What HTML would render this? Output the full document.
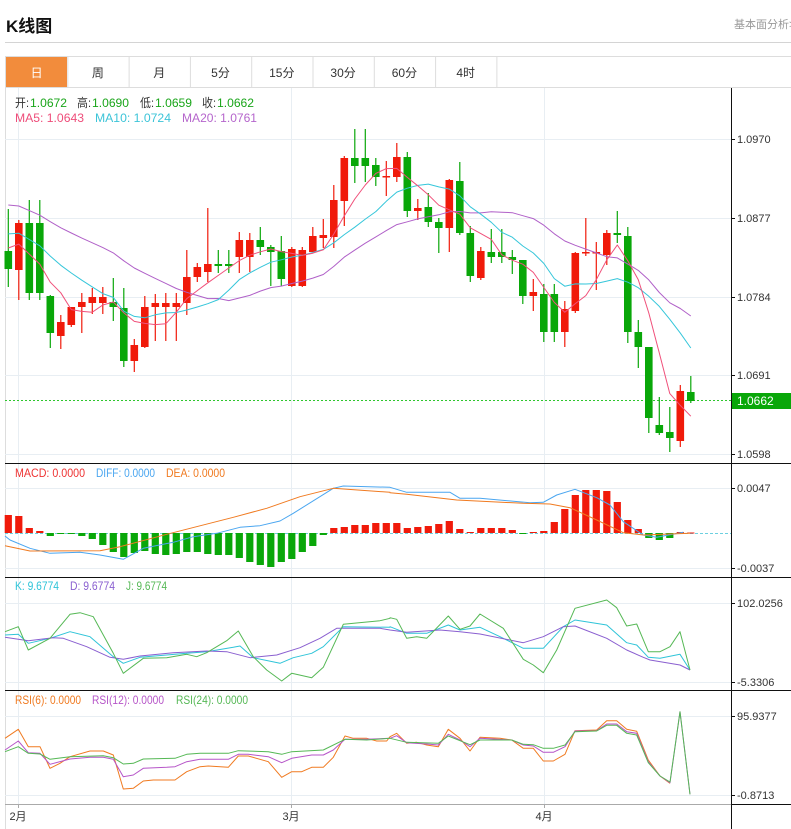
<!DOCTYPE html>
<html><head><meta charset="utf-8">
<style>
html,body{margin:0;padding:0;background:#fff;width:791px;height:829px;overflow:hidden;font-family:"Liberation Sans","Noto Sans CJK SC",sans-serif;}
#wrap{position:relative;width:791px;height:829px;}
.t{position:absolute;white-space:nowrap;}
</style></head><body><div id="wrap">
<div class="t" style="left:6px;top:12px;font-size:17px;font-weight:bold;color:#111;">K线图</div>
<div class="t" style="left:734px;top:16px;font-size:11px;color:#999;">基本面分析&gt;</div>
<div style="position:absolute;left:5px;top:42px;width:786px;height:1px;background:#d4d4d4"></div>
<svg id="s" width="791" height="829" style="position:absolute;left:0;top:0" xmlns="http://www.w3.org/2000/svg"></svg>
</div>
<script>
const NS="http://www.w3.org/2000/svg",S=document.getElementById('s');
function el(t,a,txt){const e=document.createElementNS(NS,t);for(const k in a)e.setAttribute(k,a[k]);if(txt!==undefined)e.textContent=txt;S.appendChild(e);return e;}
function line(x1,y1,x2,y2,c,w,d){const a={x1,y1,x2,y2,stroke:c,'stroke-width':w||1};if(d)a['stroke-dasharray']=d;el('line',a);}
function text(x,y,s,c,sz,anchor,len){const a={x,y,fill:c,'font-size':sz||12,'font-family':'"Liberation Sans","Noto Sans CJK SC",sans-serif','text-anchor':anchor||'start'};if(len){a.textLength=len;a.lengthAdjust='spacingAndGlyphs';}el('text',a,s);}
// tabs
line(5,56.5,791,56.5,'#ddd');line(5,87.5,791,87.5,'#ddd');
el('rect',{x:6,y:57,width:61,height:30,fill:'#f28c3c'});
const tabs=['日','周','月','5分','15分','30分','60分','4时'];
for(let i=0;i<8;i++){const x0=6+i*61.3;text(x0+30.6,77,tabs[i],i==0?'#fff':'#333',12,'middle');line(x0+61.3+.5,57,x0+61.3+.5,87,'#ddd');}
line(5.5,57,5.5,829,'#ddd');
// grids
['139','218','297','375','454','488','568','603','682','716','795'].forEach(y=>line(5,+y+.5,731,+y+.5,'#e8eef3'));
[18,291,544].forEach(x=>line(x+.5,88,x+.5,804,'#e8eef3'));
[463,577,690].forEach(y=>line(5,y+.5,791,y+.5,'#111'));
line(5,804.5,731,804.5,'#aaa');line(731,804.5,791,804.5,'#111');
line(731.5,88,731.5,829,'#111');
[[139,'1.0970'],[218,'1.0877'],[297,'1.0784'],[375,'1.0691'],[454,'1.0598'],[488,'0.0047'],[568,'-0.0037'],[603,'102.0256'],[682,'-5.3306'],[716,'95.9377'],[795,'-0.8713']].forEach(a=>{line(731,a[0]+.5,735,a[0]+.5,'#111');text(737,a[0]+4,a[1],'#333',11);});
el('rect',{x:732,y:393,width:59,height:16,fill:'#09a709'});text(737,405,'1.0662','#fff',12);
line(5,400.5,731,400.5,'#2ec72e',1,'2,2');
[[18,'2月'],[291,'3月'],[544,'4月']].forEach(a=>{line(a[0]+.5,804,a[0]+.5,808,'#aaa');text(a[0],820,a[1],'#333',11,'middle');});
// legends
const G='#1aa51a',K='#333';
text(15,107,'开:',K,12,'start',14);text(30,107,'1.0672',G,12,'start',37);
text(77,107,'高:',K,12,'start',14);text(92,107,'1.0690',G,12,'start',37);
text(140,107,'低:',K,12,'start',14);text(155,107,'1.0659',G,12,'start',37);
text(202,107,'收:',K,12,'start',14);text(217,107,'1.0662',G,12,'start',37);
text(15,122,'MA5: 1.0643','#ee4d7a',12,'start',69);text(95,122,'MA10: 1.0724','#3cc4d8',12,'start',76);text(182,122,'MA20: 1.0761','#b565cc',12,'start',75);
text(15,477,'MACD: 0.0000','#ee3333',12,'start',70);text(96,477,'DIFF: 0.0000','#4aa6f0',12,'start',59);text(166,477,'DEA: 0.0000','#f07a20',12,'start',59);
text(15,590,'K: 9.6774','#2fc4d8',12,'start',44);text(70,590,'D: 9.6774','#8a5fd0',12,'start',45);text(126,590,'J: 9.6774','#55b855',12,'start',41);
text(15,704,'RSI(6): 0.0000','#f07a20',12,'start',66);text(92,704,'RSI(12): 0.0000','#b655c8',12,'start',72);text(176,704,'RSI(24): 0.0000','#55b855',12,'start',72);
const C=[[251,269,209,287,0],[223,270,220,300,1],[223,293,200,300,0],[223,293,200,300,0],[296,333,295,348,0],[322,336,315,349,1],[307,325,307,327,1],[302,307,293,333,1],[297,303,288,314,1],[297,303,287,314,1],[302,307,278,321,0],[308,361,288,367,0],[345,361,339,372,1],[307,347,296,348,1],[303,307,294,341,1],[303,307,293,341,1],[303,307,293,341,1],[277,303,250,315,1],[267,277,263,282,1],[264,272,208,282,1],[264,266,250,273,0],[264,266,250,273,0],[240,257,232,273,1],[240,257,233,272,1],[240,247,227,255,0],[247,252,245,286,0],[251,279,236,286,0],[249,286,247,287,1],[250,286,247,287,1],[236,252,227,252,1],[235,238,219,248,1],[200,237,185,248,1],[158,201,156,226,1],[158,166,129,183,0],[158,166,129,182,0],[165,177,158,186,0],[176,177,161,196,1],[157,177,143,182,1],[157,211,152,217,0],[208,211,199,220,1],[207,222,193,227,0],[222,228,218,253,0],[180,228,179,252,1],[181,233,162,235,0],[233,276,226,282,0],[251,278,247,280,1],[252,257,229,263,0],[252,257,229,263,0],[257,260,250,274,0],[260,296,260,304,0],[292,296,279,311,1],[294,332,284,342,0],[294,332,284,342,0],[309,332,301,347,1],[253,311,252,313,1],[252,253,218,256,1],[252,253,242,290,1],[233,255,230,265,1],[233,235,211,243,0],[236,332,227,343,0],[332,347,320,368,0],[347,418,347,433,0],[425,433,397,435,0],[432,438,407,452,0],[391,441,385,447,1],[392,401,376,403,0]];
const X=i=>8.3+10.5*i;
const closes=C.map(c=>c[4]?c[0]:c[1]);
function ma(n,pre){const r=[];for(let i=0;i<closes.length;i++){let s=0;for(let k=i-n+1;k<=i;k++)s+=k<0?pre:closes[k];r.push(s/n);}return r;}
const pl=(pts,c,w)=>el('polyline',{points:pts.map(p=>p[0].toFixed(1)+','+p[1].toFixed(1)).join(' '),fill:'none',stroke:c,'stroke-width':w||1,'stroke-linejoin':'round'});
C.forEach((c,i)=>{const x=X(i),col=c[4]?'#f01a0a':'#09a709';line(x,c[2],x,c[3],col,1.2);el('rect',{x:x-3.8,y:c[0],width:7.6,height:Math.max(1.5,c[1]-c[0]),fill:col});});
[[20,201.6,'#b060c8'],[10,230,'#35c6da'],[5,242.75,'#f0507a']].forEach(m=>{const v=ma(m[0],m[1]);pl(v.map((y,i)=>[X(i),y]),m[2]);});
line(5,533.5,731,533.5,'#6cd0e0',1,'3,2');
const H=[515,516,528,531,536,534,534,536,539,545,552,557,553,551,554,555,554,552,552,554,555,555,558,562,565,567,562,559,552,546,535,528,527,525,525,523,523,523,528,527,526,524,521,529,532,528,528,528,530,533,532,531,522,509,495,490,490,491,502,520,529,538,540,538,532,532.5];
H.forEach((h,i)=>{const x=X(i);const up=h<533;el('rect',{x:x-3.6,y:Math.min(h,533),width:7.2,height:Math.max(1,Math.abs(h-533)),fill:up?'#f01a0a':'#09a709'});});
const Z=(arr,ox,oy)=>arr.map(p=>[p[0]/3+ox,p[1]/3+oy]);
const clip=a=>a.map(p=>[Math.max(5,p[0]),p[1]]);
pl(clip(Z([[0,243],[30,255],[90,280],[150,295],[240,292],[300,300],[370,313],[430,280],[520,262],[580,245],[650,235],[720,217],[780,212],[840,198],[880,175],[1000,100],[1030,93],[1170,97]],0,455).concat(Z([[0,97],[50,112],[180,112],[210,130],[270,130],[420,143],[460,142],[500,120],[555,103],[620,128],[660,150],[700,200],[760,240],[800,247],[880,232]],390,455))),'#4aa6f0');
pl(clip(Z([[0,272],[90,288],[300,287],[360,275],[500,238],[700,187],[800,160],[900,125],[1000,100],[1170,112]],0,455).concat(Z([[0,113],[50,118],[200,135],[400,145],[480,147],[540,158],[620,195],[700,233],[760,240],[900,235]],390,455))),'#f07a20');
pl(clip(Z([[0,195],[55,193],[85,220],[150,205],[210,185],[270,200],[340,260],[370,280],[420,262],[500,255],[560,250],[620,245],[700,232],[720,228],[760,263],[840,280],[880,263],[935,250],[970,230],[1030,170],[1170,172]],0,570).concat(Z([[0,170],[50,190],[110,190],[175,165],[210,180],[270,172],[330,200],[400,235],[460,235],[520,170],[555,150],[650,165],[710,218],[740,225],[775,262],[810,265],[870,253],[900,300]],390,570))),'#2fc4d8');
pl(clip(Z([[0,202],[85,212],[160,203],[190,205],[260,230],[330,262],[370,268],[420,258],[520,248],[620,243],[680,245],[750,263],[830,255],[900,233],[960,205],[1010,175],[1140,175],[1170,180]],0,570).concat(Z([[0,180],[50,187],[150,180],[210,185],[270,192],[400,218],[460,200],[520,170],[555,168],[650,205],[710,240],[760,262],[780,270],[870,285],[900,300]],390,570))),'#8a5fd0');
pl(clip(Z([[0,185],[55,170],[85,240],[150,205],[210,133],[240,128],[280,140],[340,250],[370,310],[430,265],[500,263],[560,253],[590,260],[620,248],[680,212],[715,183],[760,260],[800,300],[845,333],[875,310],[935,323],[970,292],[1030,163],[1140,152],[1170,145]],0,570).concat(Z([[0,143],[20,148],[50,205],[80,200],[110,205],[175,138],[210,178],[240,168],[270,132],[340,175],[400,268],[430,285],[460,308],[500,240],[555,115],[650,90],[680,113],[710,168],[740,162],[775,245],[810,245],[840,230],[870,185],[900,300]],390,570))),'#55b855');
// RSI
pl(clip(Z([[15,505],[55,478],[85,530],[120,530],[150,595],[180,580],[210,560],[270,543],[310,543],[340,555],[370,657],[400,655],[430,633],[460,630],[525,630],[560,605],[600,590],[625,588],[685,592],[715,558],[745,558],[805,575],[845,622],[875,605],[905,605],[935,592],[970,592],[1000,562],[1035,498],[1060,505],[1100,505],[1130,513],[1160,513],[1170,500]],0,570).concat(Z([[0,500],[20,490],[50,520],[80,517],[110,525],[145,530],[175,478],[210,505],[240,543],[270,502],[330,505],[365,510],[400,535],[430,535],[460,573],[490,573],[525,553],[555,482],[620,480],[650,452],[680,452],[710,478],[740,484],[775,570],[810,618],[840,640]],390,570))),'#f07a20');
pl(clip(Z([[15,540],[55,513],[85,548],[120,550],[150,583],[210,567],[270,562],[310,562],[340,568],[370,620],[400,615],[430,595],[500,592],[525,590],[560,575],[600,568],[685,568],[715,553],[745,553],[805,560],[845,578],[875,565],[935,555],[970,555],[1000,540],[1035,508],[1100,508],[1170,505]],0,570).concat(Z([[0,505],[20,497],[50,518],[110,522],[145,525],[175,493],[210,510],[240,530],[270,505],[365,510],[400,525],[430,528],[460,547],[490,547],[525,530],[555,483],[620,482],[650,462],[680,462],[710,485],[740,490],[775,575],[810,618],[840,638],[870,425],[900,673]],390,570))),'#b655c8');
pl(clip(Z([[15,545],[55,530],[85,550],[120,552],[150,568],[210,560],[310,557],[340,563],[370,582],[400,580],[430,567],[525,565],[560,553],[600,550],[685,550],[715,542],[805,545],[845,553],[875,545],[970,540],[1035,508],[1100,510],[1170,505]],0,570).concat(Z([[0,505],[50,517],[145,520],[175,498],[210,512],[240,524],[270,510],[365,510],[400,523],[430,524],[460,535],[490,535],[525,525],[555,485],[620,483],[650,466],[680,466],[710,490],[740,495],[775,578],[810,618],[840,636],[870,425],[900,673]],390,570))),'#55b855');
</script>
</body></html>
